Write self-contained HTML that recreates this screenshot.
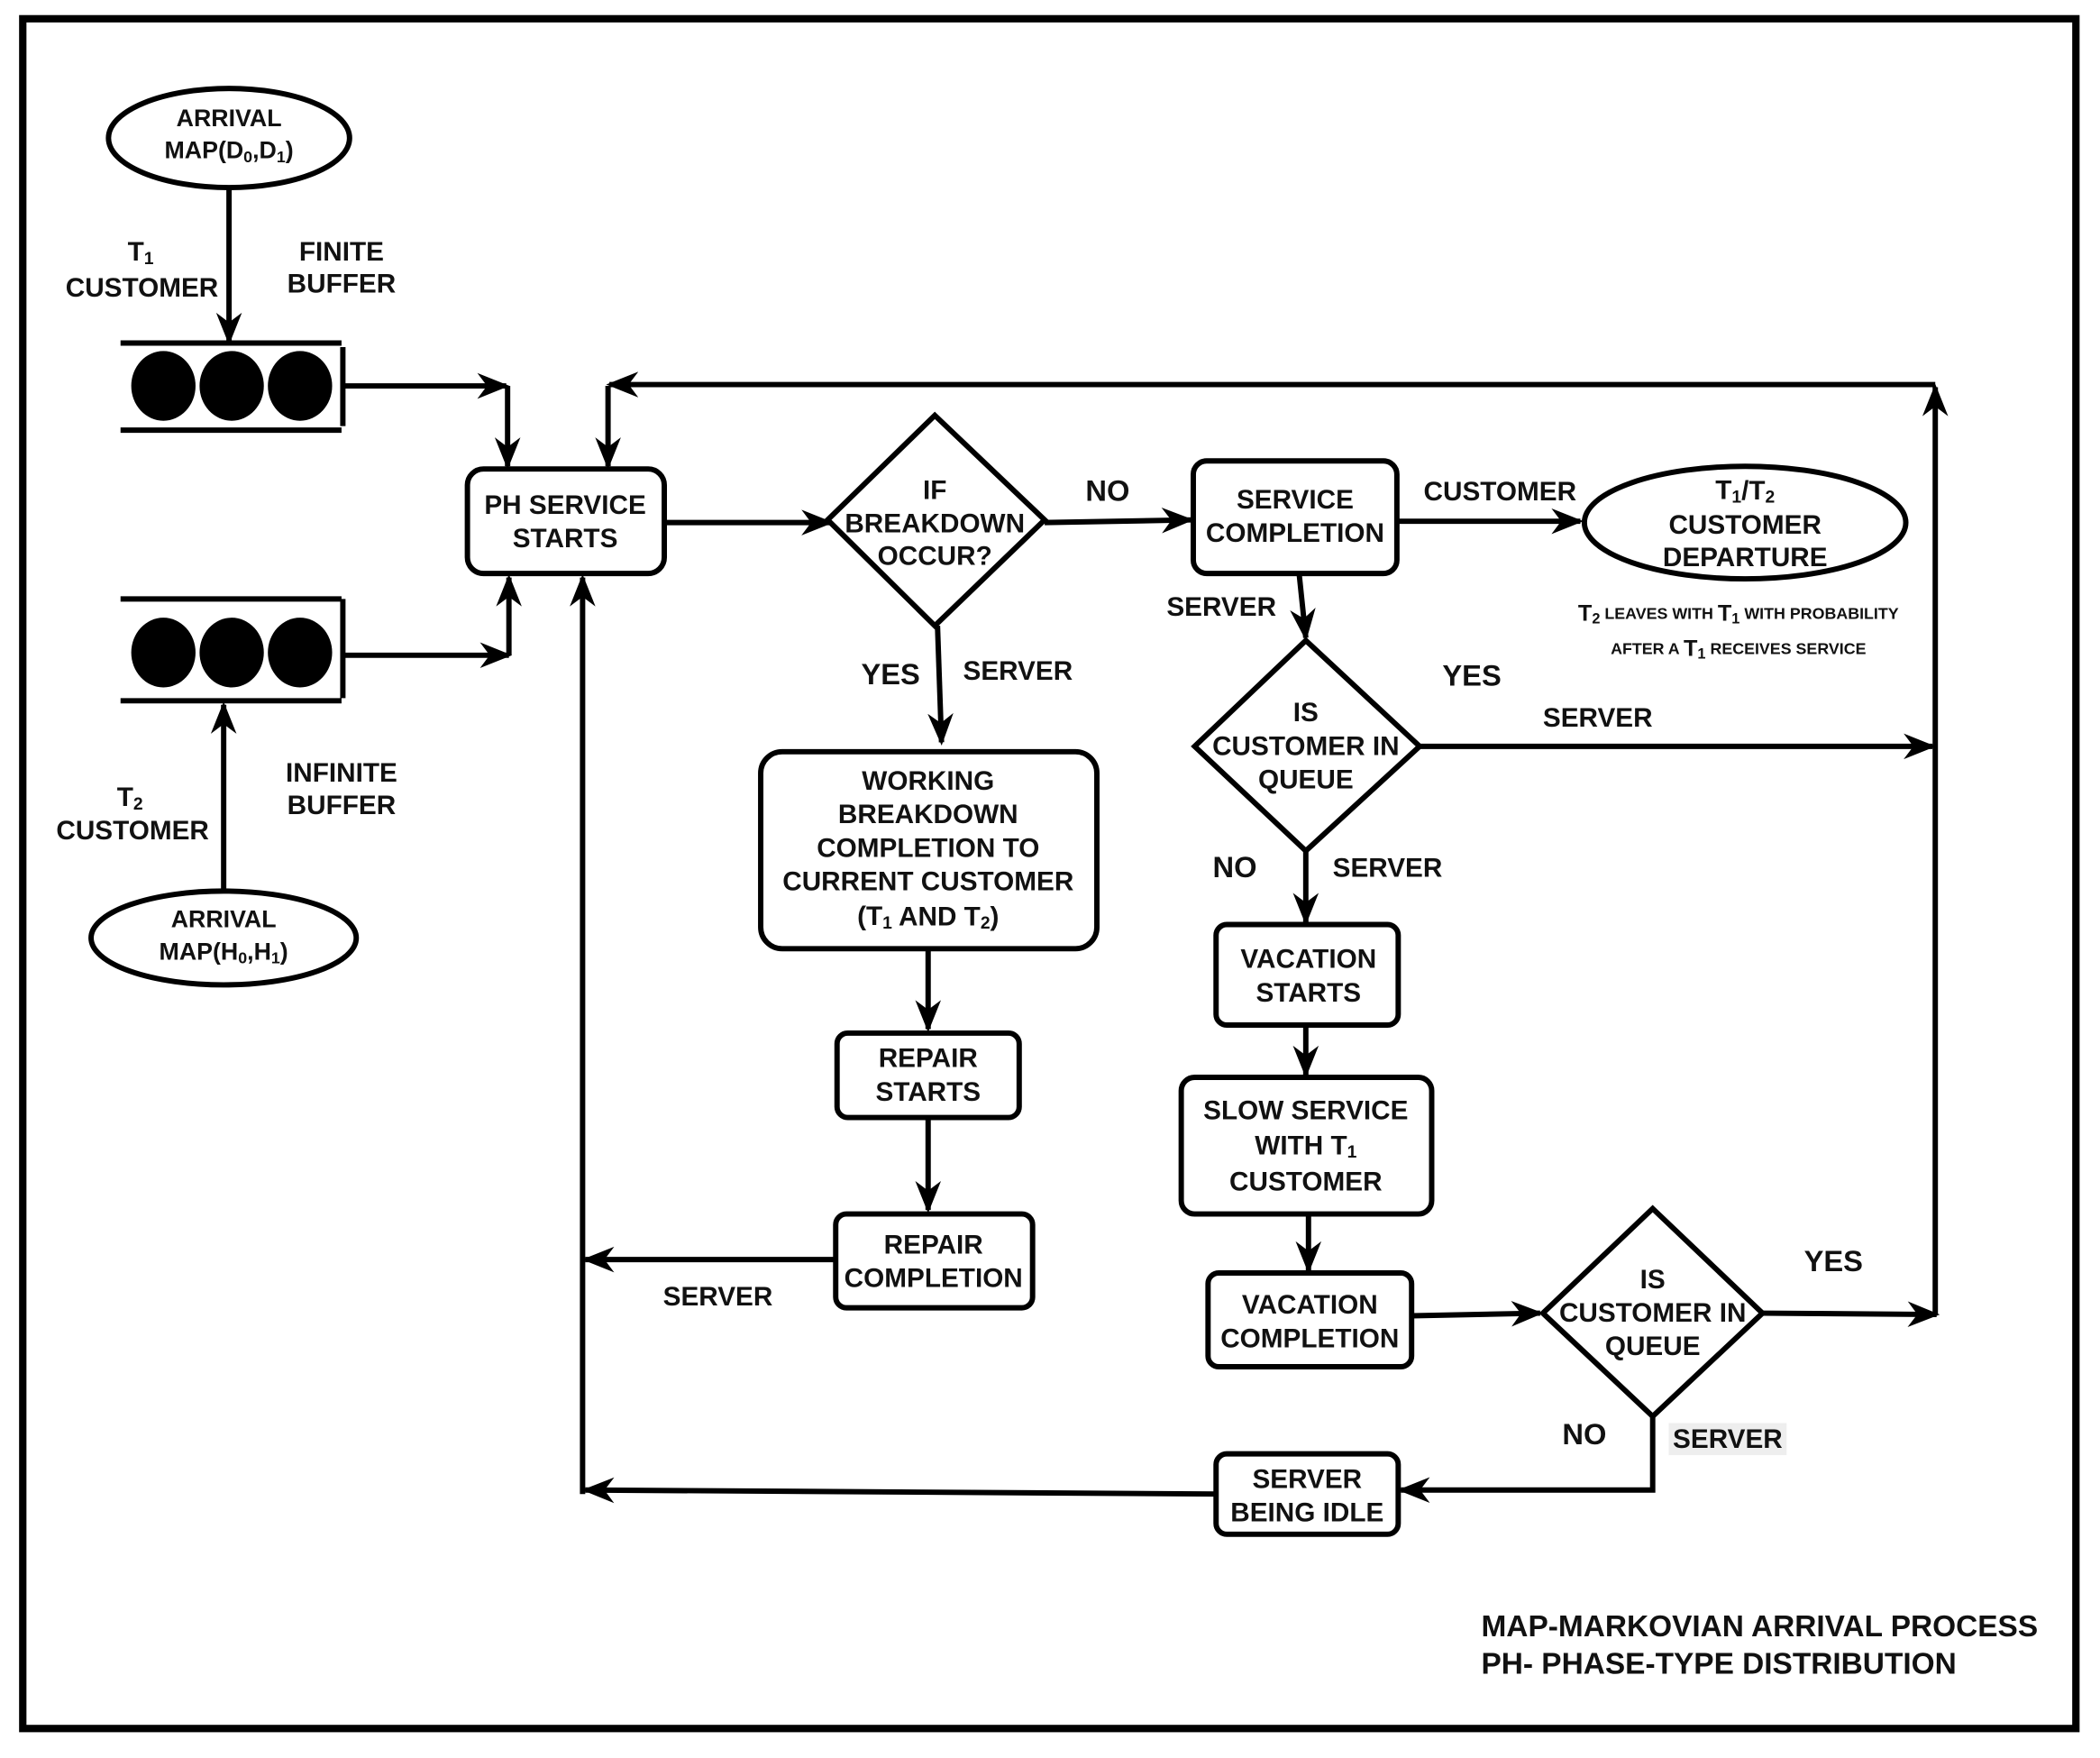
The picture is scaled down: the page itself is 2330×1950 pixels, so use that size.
<!DOCTYPE html>
<html><head><meta charset="utf-8"><style>
html,body{margin:0;padding:0;background:#fff}
svg{display:block}
text{font-family:"Liberation Sans",Arial,sans-serif;font-weight:bold;fill:#111;text-anchor:middle;dominant-baseline:central}
</style></head><body>
<svg width="2330" height="1950" viewBox="0 0 1568 1312" preserveAspectRatio="none" xmlns="http://www.w3.org/2000/svg">
<defs>
<marker id="a" viewBox="0 0 20 20" refX="18" refY="10" markerWidth="6" markerHeight="6" markerUnits="strokeWidth" orient="auto">
<path d="M0,2 L20,10 L0,18 L6,10 Z" fill="#000"/>
</marker>
</defs>
<g fill="none" stroke="#000" stroke-width="4">
<rect x="17" y="14" width="1533" height="1276" stroke-width="5.5"/>
<ellipse cx="171" cy="103" rx="90" ry="37"/>
<ellipse cx="167" cy="700" rx="99" ry="35"/>
<ellipse cx="1303" cy="390" rx="120" ry="42"/>
<path d="M90,256 H255 M90,321 H255 M256,259 V318"/>
<path d="M90,447 H255 M90,523 H255 M256,447 V521"/>
<rect x="349" y="350" width="147" height="78" rx="12"/>
<rect x="891" y="344" width="152" height="84" rx="10"/>
<rect x="568" y="561" width="251" height="147" rx="16"/>
<rect x="625" y="771" width="136" height="63" rx="8"/>
<rect x="624" y="906" width="147" height="70" rx="8"/>
<rect x="908" y="690" width="136" height="75" rx="8"/>
<rect x="882" y="804" width="187" height="102" rx="10"/>
<rect x="902" y="950" width="152" height="70" rx="8"/>
<rect x="908" y="1085" width="136" height="60" rx="8"/>
<path d="M698,310 L780,388 L698,467 L618,388 Z"/>
<path d="M975,478 L1060,557 L975,635 L892,557 Z"/>
<path d="M1234,902 L1316,980 L1234,1057 L1152,980 Z"/>
<path d="M171,141 V255" marker-end="url(#a)"/>
<path d="M167,665 V526" marker-end="url(#a)"/>
<path d="M257,288 H378" marker-end="url(#a)"/>
<path d="M379,288 V348" marker-end="url(#a)"/>
<path d="M1445,287 H455" marker-end="url(#a)"/>
<path d="M454,288 V348" marker-end="url(#a)"/>
<path d="M257,489 H380" marker-end="url(#a)"/>
<path d="M380,489 V431" marker-end="url(#a)"/>
<path d="M435,1115 V431" marker-end="url(#a)"/>
<path d="M496,390 H620" marker-end="url(#a)"/>
<path d="M780,390 L889,388" marker-end="url(#a)"/>
<path d="M1043,389 H1180" marker-end="url(#a)"/>
<path d="M970,428 L975,476" marker-end="url(#a)"/>
<path d="M1060,557 H1443" marker-end="url(#a)"/>
<path d="M1445,981 V289" marker-end="url(#a)"/>
<path d="M975,635 V688" marker-end="url(#a)"/>
<path d="M975,765 V802" marker-end="url(#a)"/>
<path d="M977,906 V948" marker-end="url(#a)"/>
<path d="M1054,982 L1150,980" marker-end="url(#a)"/>
<path d="M1316,980 L1446,981" marker-end="url(#a)"/>
<path d="M1234,1057 V1112 H1046" marker-end="url(#a)"/>
<path d="M908,1115 L437,1112" marker-end="url(#a)"/>
<path d="M624,940 H437" marker-end="url(#a)"/>
<path d="M700,467 L703,554" marker-end="url(#a)"/>
<path d="M693,708 V768" marker-end="url(#a)"/>
<path d="M693,834 V903" marker-end="url(#a)"/>
</g>
<g fill="#000">
<ellipse cx="122" cy="288" rx="24" ry="26"/><ellipse cx="173" cy="288" rx="24" ry="26"/><ellipse cx="224" cy="288" rx="24" ry="26"/>
<ellipse cx="122" cy="487" rx="24" ry="26"/><ellipse cx="173" cy="487" rx="24" ry="26"/><ellipse cx="224" cy="487" rx="24" ry="26"/>
</g>
<rect x="1246" y="1062" width="88" height="24" fill="#eee"/>
<g font-size="18">
<text x="171" y="88">ARRIVAL</text><text x="171" y="112">MAP(D<tspan font-size="12" dy="5">0</tspan><tspan dy="-5">,D</tspan><tspan font-size="12" dy="5">1</tspan><tspan dy="-5">)</tspan></text>
<text x="167" y="686">ARRIVAL</text><text x="167" y="710">MAP(H<tspan font-size="12" dy="5">0</tspan><tspan dy="-5">,H</tspan><tspan font-size="12" dy="5">1</tspan><tspan dy="-5">)</tspan></text>
</g>
<g font-size="20">
<text x="105" y="188">T<tspan font-size="13" dy="5">1</tspan></text><text x="106" y="215">CUSTOMER</text>
<text x="255" y="188">FINITE</text><text x="255" y="212">BUFFER</text>
<text x="97" y="595">T<tspan font-size="13" dy="5">2</tspan></text><text x="99" y="620">CUSTOMER</text>
<text x="255" y="577">INFINITE</text><text x="255" y="601">BUFFER</text>
<text x="422" y="377">PH SERVICE</text><text x="422" y="402">STARTS</text>
<text x="698" y="366">IF</text><text x="698" y="391">BREAKDOWN</text><text x="698" y="415">OCCUR?</text>
<text x="827" y="366" font-size="22">NO</text>
<text x="967" y="373">SERVICE</text><text x="967" y="398">COMPLETION</text>
<text x="1120" y="367">CUSTOMER</text>
<text x="1303" y="366">T<tspan font-size="13" dy="5">1</tspan><tspan dy="-5">/T</tspan><tspan font-size="13" dy="5">2</tspan></text><text x="1303" y="392">CUSTOMER</text><text x="1303" y="416">DEPARTURE</text>
<text x="912" y="453">SERVER</text>
<text x="975" y="532">IS</text><text x="975" y="557">CUSTOMER IN</text><text x="975" y="582">QUEUE</text>
<text x="1099" y="504" font-size="22">YES</text><text x="1193" y="536">SERVER</text>
<text x="922" y="647" font-size="22">NO</text><text x="1036" y="648">SERVER</text>
<text x="977" y="716">VACATION</text><text x="977" y="741">STARTS</text>
<text x="975" y="829">SLOW SERVICE</text><text x="975" y="855">WITH T<tspan font-size="13" dy="5">1</tspan></text><text x="975" y="882">CUSTOMER</text>
<text x="978" y="974">VACATION</text><text x="978" y="999">COMPLETION</text>
<text x="1234" y="955">IS</text><text x="1234" y="980">CUSTOMER IN</text><text x="1234" y="1005">QUEUE</text>
<text x="1369" y="941" font-size="22">YES</text>
<text x="1183" y="1070" font-size="22">NO</text><text x="1290" y="1074">SERVER</text>
<text x="976" y="1104">SERVER</text><text x="976" y="1129">BEING IDLE</text>
<text x="536" y="968">SERVER</text>
<text x="697" y="929">REPAIR</text><text x="697" y="954">COMPLETION</text>
<text x="693" y="790">REPAIR</text><text x="693" y="815">STARTS</text>
<text x="665" y="503" font-size="22">YES</text><text x="760" y="501">SERVER</text>
<text x="693" y="583">WORKING</text><text x="693" y="608">BREAKDOWN</text><text x="693" y="633">COMPLETION TO</text><text x="693" y="658">CURRENT CUSTOMER</text><text x="693" y="684">(T<tspan font-size="13" dy="5">1</tspan><tspan dy="-5"> AND T</tspan><tspan font-size="13" dy="5">2</tspan><tspan dy="-5">)</tspan></text>
</g>
<g font-size="12">
<text x="1298" y="458"><tspan font-size="17">T</tspan><tspan font-size="11" dy="4">2</tspan><tspan dy="-4"> LEAVES WITH </tspan><tspan font-size="17">T</tspan><tspan font-size="11" dy="4">1</tspan><tspan dy="-4"> WITH PROBABILITY</tspan></text>
<text x="1298" y="484">AFTER A <tspan font-size="17">T</tspan><tspan font-size="11" dy="4">1</tspan><tspan dy="-4"> RECEIVES SERVICE</tspan></text>
</g>
<g font-size="22.5">
<text x="1106" y="1214" style="text-anchor:start">MAP-MARKOVIAN ARRIVAL PROCESS</text>
<text x="1106" y="1242" style="text-anchor:start">PH- PHASE-TYPE DISTRIBUTION</text>
</g>
</svg>
</body></html>
